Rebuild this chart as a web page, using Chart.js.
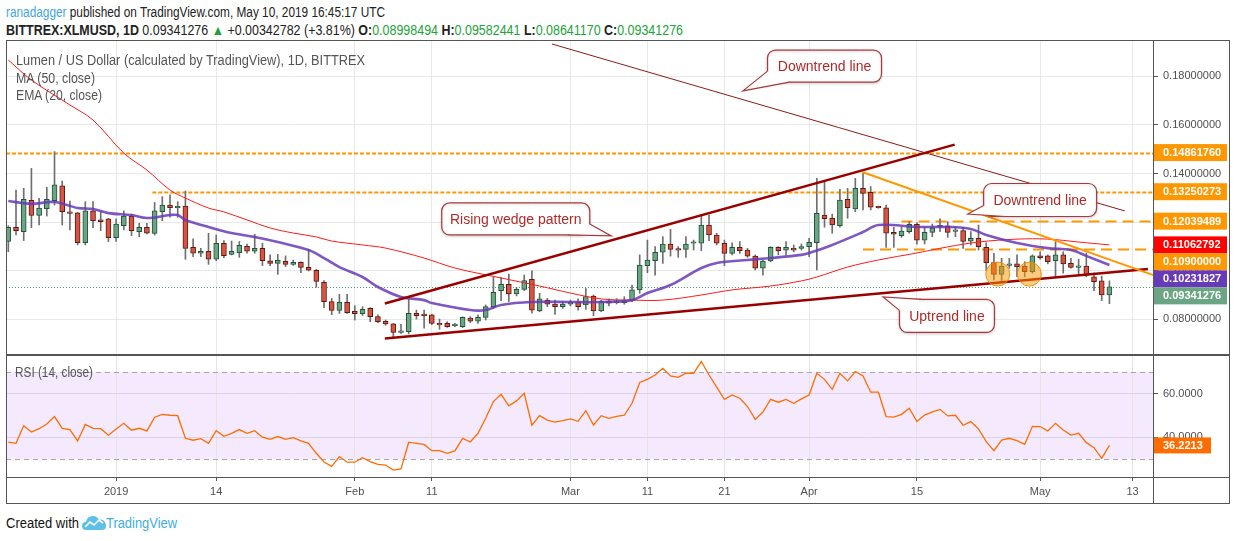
<!DOCTYPE html>
<html>
<head>
<meta charset="utf-8">
<script src="https://cdn.jsdelivr.net/npm/chart.js@4.4.0/dist/chart.umd.min.js"></script>
<style>
  body { margin:0; background:#fff; width:1234px; height:541px; overflow:hidden; position:relative;
         font-family:"Liberation Sans", Arial, sans-serif; }
  .fit { position:absolute; white-space:nowrap; transform-origin:0 50%; line-height:16px; }
  .line { position:absolute; background:#555; }
  #mainBox { position:absolute; left:6px; top:40px; width:1224px; height:315px; }
  #rsiBox  { position:absolute; left:6px; top:355px; width:1224px; height:149px; }
  .leg { color:#555; font-size:14px; }
  .g { color:#22a33a; }
</style>
</head>
<body>

<div id="mainBox"><canvas id="mainChart"></canvas></div>
<div id="rsiBox"><canvas id="rsiChart"></canvas></div>

<!-- frame -->
<div class="line" style="left:6px;top:40px;width:1224px;height:1px"></div>
<div class="line" style="left:6px;top:503px;width:1224px;height:1px"></div>
<div class="line" style="left:6px;top:40px;width:1px;height:464px"></div>
<div class="line" style="left:1229px;top:40px;width:1px;height:464px"></div>
<div class="line" style="left:6px;top:354px;width:1224px;height:2px"></div>
<div class="line" style="left:6px;top:477px;width:1224px;height:1px"></div>
<div class="line" style="left:1153px;top:40px;width:1px;height:464px"></div>

<div class="fit" data-w="379" style="left:6px;top:4px;font-size:14px;color:#222"><span style="color:#3fa6e0">ranadagger</span> published on TradingView.com, May 10, 2019 16:45:17 UTC</div>
<div class="fit" data-w="677" style="left:6px;top:22px;font-size:14px;color:#222"><b>BITTREX:XLMUSD, 1D</b> 0.09341276 <span class="g">&#9650;</span> +0.00342782 (+3.81%) <b>O:</b><span class="g">0.08998494</span> <b>H:</b><span class="g">0.09582441</span> <b>L:</b><span class="g">0.08641170</span> <b>C:</b><span class="g">0.09341276</span></div>

<div class="fit leg" data-w="349" style="left:16px;top:52px">Lumen / US Dollar (calculated by TradingView), 1D, BITTREX</div>
<div class="fit leg" data-w="79" style="left:16px;top:70px">MA (50, close)</div>
<div class="fit leg" data-w="86" style="left:16px;top:87px">EMA (20, close)</div>
<div class="fit leg" data-w="78" style="left:15px;top:364px">RSI (14, close)</div>

<div class="fit" data-w="73" style="left:6px;top:515px;font-size:14px;color:#111">Created with</div>
<svg style="position:absolute;left:82px;top:514px" width="24" height="17" viewBox="0 0 24 17">
  <path d="M4 16 Q0 16 0 12 Q0 8 4 8 Q5 2 11 2 Q15 2 17 6 Q19 5 21 6 Q24 8 24 12 Q24 16 20 16 Z" fill="#5cc0e8"/>
  <polyline points="3,13 8,8 12,11 17,6 21,9" stroke="#fff" stroke-width="1.6" fill="none"/>
</svg>
<div class="fit" data-w="71" style="left:106px;top:515px;font-size:14px;color:#3eaee0">TradingView</div>

<script>
// candles, one per day from 2018-12-18 (index 0) to 2019-05-10 (index 143)
const open = [
0.1120,0.1179,0.1161,0.1290,0.1227,0.1255,0.1288,0.1349,0.1242,0.1238,0.1115,0.1246,
0.1209,0.1213,0.1136,0.1185,0.1225,0.1161,0.1179,0.1153,0.1243,0.1270,0.1259,0.1266,
0.1096,0.1072,0.1080,0.1047,0.1113,0.1067,0.1074,0.1100,0.1080,0.1092,0.1041,0.1030,
0.1039,0.1026,0.1034,0.1014,0.1002,0.0952,0.0873,0.0837,0.0870,0.0833,0.0823,0.0845,
0.0811,0.0792,0.0781,0.0746,0.0749,0.0825,0.0820,0.0818,0.0781,0.0783,0.0774,0.0770,
0.0805,0.0792,0.0808,0.0852,0.0918,0.0944,0.0904,0.0923,0.0964,0.0835,0.0879,0.0863,
0.0852,0.0862,0.0870,0.0859,0.0896,0.0835,0.0875,0.0868,0.0868,0.0877,0.0921,0.1021,
0.1041,0.1076,0.1110,0.1088,0.1088,0.1113,0.1113,0.1188,0.1147,0.1113,0.1071,0.1096,
0.1085,0.1060,0.1010,0.1040,0.1096,0.1085,0.1092,0.1092,0.1099,0.1115,0.1229,0.1216,
0.1185,0.1294,0.1254,0.1339,0.1323,0.1261,0.1259,0.1158,0.1144,0.1161,0.1191,0.1126,
0.1158,0.1181,0.1185,0.1162,0.1165,0.1122,0.1133,0.1096,0.1033,0.0985,0.1022,0.1028,
0.1019,0.0996,0.1061,0.1061,0.1041,0.1065,0.1030,0.1014,0.1019,0.0975,0.0958,0.08998494
];
const high = [
0.1185,0.1332,0.1339,0.1421,0.1298,0.1343,0.1490,0.1369,0.1287,0.1240,0.1284,0.1284,
0.1243,0.1215,0.1213,0.1246,0.1233,0.1195,0.1195,0.1281,0.1305,0.1312,0.1284,0.1328,
0.1131,0.1092,0.1154,0.1147,0.1124,0.1122,0.1120,0.1110,0.1150,0.1113,0.1065,0.1067,
0.1061,0.1044,0.1037,0.1088,0.1006,0.0959,0.0886,0.0903,0.0903,0.0856,0.0852,0.0848,
0.0818,0.0797,0.0783,0.0779,0.0884,0.0838,0.0838,0.0821,0.0801,0.0790,0.0783,0.0810,
0.0811,0.0818,0.0859,0.0973,0.0973,0.0986,0.0932,0.0982,0.0999,0.0907,0.0886,0.0879,
0.0873,0.0879,0.0884,0.0927,0.0900,0.0879,0.0884,0.0885,0.0893,0.0941,0.1065,0.1126,
0.1099,0.1140,0.1170,0.1099,0.1140,0.1126,0.1229,0.1229,0.1154,0.1126,0.1115,0.1120,
0.1092,0.1065,0.1044,0.1099,0.1099,0.1120,0.1106,0.1110,0.1133,0.1380,0.1367,0.1233,
0.1335,0.1339,0.1380,0.1401,0.1346,0.1266,0.1270,0.1179,0.1179,0.1202,0.1198,0.1179,
0.1192,0.1213,0.1202,0.1179,0.1179,0.1161,0.1188,0.1115,0.1072,0.1051,0.1051,0.1065,
0.1037,0.1065,0.1078,0.1065,0.1120,0.1078,0.1051,0.1047,0.1072,0.0990,0.0978,0.09582441
];
const low = [
0.1078,0.1147,0.1124,0.1177,0.1188,0.1225,0.1270,0.1188,0.1168,0.1106,0.1106,0.1177,
0.1165,0.1120,0.1120,0.1168,0.1144,0.1140,0.1151,0.1147,0.1206,0.1220,0.1220,0.1047,
0.1058,0.1058,0.1026,0.1041,0.1054,0.1065,0.1055,0.1072,0.1072,0.1021,0.1021,0.0985,
0.1017,0.1022,0.0992,0.0999,0.0932,0.0848,0.0819,0.0824,0.0824,0.0797,0.0816,0.0790,
0.0786,0.0775,0.0722,0.0742,0.0740,0.0801,0.0763,0.0778,0.0759,0.0767,0.0770,0.0766,
0.0786,0.0783,0.0797,0.0845,0.0877,0.0873,0.0896,0.0918,0.0825,0.0831,0.0852,0.0820,
0.0845,0.0855,0.0838,0.0841,0.0815,0.0831,0.0855,0.0863,0.0862,0.0873,0.0907,0.0992,
0.0982,0.1030,0.1060,0.1055,0.1055,0.1085,0.1082,0.1124,0.1106,0.1021,0.1065,0.1071,
0.1055,0.1003,0.0982,0.1037,0.1065,0.1065,0.1078,0.1085,0.1058,0.1003,0.1179,0.1154,
0.1179,0.1216,0.1243,0.1250,0.1250,0.1257,0.1096,0.1096,0.1137,0.1154,0.1109,0.1110,
0.1140,0.1161,0.1137,0.1140,0.1092,0.1106,0.1085,0.1000,0.0962,0.0951,0.1010,0.0975,
0.0975,0.0990,0.1047,0.1028,0.0975,0.0990,0.1010,0.0982,0.0975,0.0918,0.0877,0.08641170
];
const close = [
0.1179,0.1165,0.1294,0.1227,0.1258,0.1294,0.1353,0.1243,0.1236,0.1115,0.1246,0.1206,
0.1202,0.1136,0.1192,0.1225,0.1165,0.1179,0.1154,0.1246,0.1270,0.1259,0.1261,0.1092,
0.1072,0.1080,0.1047,0.1113,0.1062,0.1080,0.1104,0.1080,0.1092,0.1041,0.1030,0.1043,
0.1026,0.1034,0.1014,0.1002,0.0956,0.0873,0.0837,0.0870,0.0827,0.0823,0.0841,0.0811,
0.0790,0.0781,0.0746,0.0752,0.0825,0.0815,0.0815,0.0783,0.0777,0.0770,0.0777,0.0808,
0.0792,0.0808,0.0852,0.0911,0.0944,0.0904,0.0923,0.0959,0.0838,0.0884,0.0862,0.0852,
0.0863,0.0870,0.0852,0.0893,0.0835,0.0874,0.0866,0.0875,0.0877,0.0921,0.1023,0.1044,
0.1076,0.1110,0.1088,0.1085,0.1110,0.1115,0.1188,0.1147,0.1113,0.1071,0.1096,0.1082,
0.1060,0.1010,0.1040,0.1096,0.1082,0.1096,0.1085,0.1099,0.1117,0.1236,0.1214,0.1188,
0.1291,0.1259,0.1339,0.1318,0.1261,0.1259,0.1154,0.1150,0.1163,0.1191,0.1126,0.1158,
0.1176,0.1185,0.1158,0.1165,0.1120,0.1133,0.1099,0.1033,0.0985,0.1019,0.1028,0.1017,
0.0996,0.1061,0.1054,0.1037,0.1065,0.1028,0.1014,0.1019,0.0982,0.0955,0.08998494,0.09341276
];

// moving averages (day index, value)
const maDay = [0,3,8,11,15,18,21,23,26,28,31,34,37,40,42,46,49,54,58,64,69,73,77,81,85,90,94,99,103,105,109,113,118,122,126,131,135,139,143];
const maValue = [0.1867,0.1785,0.1682,0.1620,0.1484,0.1414,0.1332,0.1299,0.1258,0.1242,0.1209,0.1176,0.1155,0.1139,0.1122,0.1106,0.1093,0.1052,0.1011,0.0970,
  0.0937,0.0908,0.0884,0.0879,0.0879,0.0900,0.0921,0.0937,0.0958,0.0974,0.1015,0.1044,0.1073,0.1098,0.1118,0.1130,0.1130,0.1118,0.11062792];
const emaDay = [0,3,6,9,11,13,16,18,21,22,23,26,29,32,35,39,41,43,46,48,51,54,55,60,62,64,68,73,77,81,83,86,90,92,96,99,103,104,107,111,113,118,122,125,127,131,135,138,140,143];
const emaValue = [0.1287,0.1275,0.1283,0.1258,0.1254,0.1237,0.1229,0.1217,0.1229,0.1229,0.1209,0.1180,0.1155,0.1139,0.1118,0.1085,0.1052,0.1015,0.0974,0.0933,
  0.0892,0.0879,0.0867,0.0838,0.0838,0.0859,0.0871,0.0871,0.0871,0.0879,0.0908,0.0941,0.1011,0.1032,0.1044,0.1052,0.1065,0.1073,0.1106,0.1159,
  0.1188,0.1180,0.1180,0.1172,0.1147,0.1114,0.1093,0.1085,0.1061,0.10231827];

// RSI(14) per day
const rsi = [
37.7,37.2,45.3,42.4,43.9,46.1,49.5,44.1,43.5,38.3,45.9,44.1,
43.9,40.9,43.8,46.4,43.2,44.1,42.9,49.2,50.5,50.1,49.9,39.5,
38.6,39.3,37.2,43.0,40.4,41.8,43.5,41.8,43.0,40.0,39.0,40.3,
39.0,39.8,38.3,37.2,32.6,28.6,26.6,31.1,28.5,28.5,30.6,28.8,
27.5,27.2,24.9,25.4,37.7,37.2,36.7,33.8,33.8,32.6,33.7,39.5,
37.8,41.8,48.7,56.4,59.7,54.4,56.7,60.2,45.5,49.9,47.9,46.9,
47.6,48.4,47.3,52.2,45.6,49.9,48.7,49.6,50.1,55.6,65.2,66.6,
68.6,71.7,68.2,67.5,69.4,69.4,74.8,68.6,63.0,57.4,59.4,57.9,
54.1,48.2,51.6,57.4,56.1,57.4,55.6,57.6,59.4,69.4,66.6,62.0,
69.4,65.9,70.2,68.2,60.7,60.7,49.5,49.2,50.5,53.3,47.2,50.2,
51.6,52.8,49.8,50.1,45.5,47.2,43.8,38.0,33.8,38.7,39.5,38.4,
36.7,45.0,44.9,42.9,46.4,43.3,41.0,41.8,37.5,35.2,30.3,36.2213
];

// date axis
const dateTicks = [14,27,45,55,73,83,93,104,118,134,146];
const dateLabels = ['2019','14','Feb','11','Mar','11','21','Apr','15','May','13'];
const priceTicks = [0.08,0.10,0.12,0.14,0.16,0.18];
const rsiTicks = [40,60];

// price labels on the axis
const badgeValues = [0.14861760,0.13250273,0.12039489,0.11062792,0.10900000,0.10231827,0.09341276];
const badgeColors = ['#ff9800','#ff9800','#ff9800','#ff0000','#ff9800','#673ab7','#6ba583'];
const lastPrice = 0.09341276;
const lastRsi = 36.2213;

// drawings (day index, price)
const levels = [
  { value: 0.14861760, from: -0.3, dash: [4, 2] },
  { value: 0.13250273, from: 18.7, dash: [4, 2] },
  { value: 0.12039489, from: 116, dash: [11, 6] },
  { value: 0.10900000, from: 111, dash: [11, 6] }
];
const trendLines = [
  { a: [70.6, 0.1933], b: [145.0, 0.1246], color: '#8b1a1a', width: 1 },
  { a: [48.9, 0.0865], b: [122.9, 0.1519], color: '#990000', width: 2.5 },
  { a: [48.9, 0.0721], b: [148.0, 0.1007], color: '#990000', width: 2.5 },
  { a: [110.9, 0.1406], b: [148.7, 0.0982], color: '#ff9800', width: 2 }
];
const circles = [[128.5, 0.0986], [132.6, 0.0986]];
const callouts = [
  { text: 'Downtrend line', at: [106.0, 0.1842], w: 114, h: 32, tip: [95.4, 0.1740] },
  { text: 'Rising wedge pattern', at: [65.9, 0.1213], w: 148, h: 32, tip: [78.3, 0.1143] },
  { text: 'Downtrend line', at: [134.0, 0.1291], w: 113, h: 33, tip: [124.6, 0.1233] },
  { text: 'Uptrend line', at: [121.9, 0.0814], w: 95, h: 33, tip: [113.6, 0.0892] }
];

const FONT = '"Liberation Sans", Arial, sans-serif';
const X_MIN = -0.3, X_MAX = 148.66;
const AXIS_W = 77;

const wicks = close.map((c, i) => ({ x: i, y: [low[i], high[i]] }));
const bodies = close.map((c, i) => ({ x: i, y: [open[i], c] }));
const isUp = i => close[i] >= open[i];

function fixAxis(s, w) {
  s.width = w;
  s.paddingTop = 0; s.paddingBottom = 0;
}

function bubble(ctx, cx, cy, w, h, tx, ty, text) {
  const x0 = cx - w / 2, y0 = cy - h / 2;
  const left = tx < cx, top = ty < cy;
  const cX = left ? x0 : x0 + w, cY = top ? y0 : y0 + h;
  const p1 = [cX, cY + (top ? 11 : -11)];
  const p2 = [cX + (left ? 22 : -22), cY];
  ctx.save();
  ctx.fillStyle = '#fff';
  ctx.strokeStyle = '#a83a3a';
  ctx.lineWidth = 1.2;
  ctx.shadowColor = 'rgba(0,0,0,0.18)';
  ctx.shadowBlur = 3;
  ctx.shadowOffsetY = 1;
  ctx.beginPath();
  ctx.roundRect(x0, y0, w, h, 8);
  ctx.fill();
  ctx.stroke();
  ctx.shadowColor = 'transparent';
  ctx.beginPath();
  ctx.moveTo(p1[0], p1[1]); ctx.lineTo(tx, ty); ctx.lineTo(p2[0], p2[1]); ctx.closePath();
  ctx.fill();
  ctx.beginPath();
  ctx.moveTo(p1[0], p1[1]); ctx.lineTo(tx, ty); ctx.lineTo(p2[0], p2[1]);
  ctx.stroke();
  ctx.fillStyle = '#b02a2a';
  ctx.font = '14px ' + FONT;
  ctx.textAlign = 'center';
  ctx.textBaseline = 'middle';
  ctx.fillText(text, cx, cy + 1, w - 16);
  ctx.restore();
}

const drawingsPlugin = {
  id: 'drawings',
  beforeDatasetsDraw(chart) {
    const { ctx, chartArea: a, scales: { x, y } } = chart;
    ctx.save();
    ctx.beginPath(); ctx.rect(a.left, a.top, a.width, a.height); ctx.clip();
    levels.forEach(l => {
      ctx.strokeStyle = '#ff9800'; ctx.lineWidth = 2; ctx.setLineDash(l.dash);
      const py = Math.round(y.getPixelForValue(l.value)) + 0.5;
      ctx.beginPath(); ctx.moveTo(x.getPixelForValue(l.from), py); ctx.lineTo(a.right, py); ctx.stroke();
    });
    ctx.strokeStyle = '#4f9a6a'; ctx.lineWidth = 1; ctx.setLineDash([1, 2]);
    const ly = Math.round(y.getPixelForValue(lastPrice)) + 0.5;
    ctx.beginPath(); ctx.moveTo(a.left, ly); ctx.lineTo(a.right, ly); ctx.stroke();
    ctx.restore();
  },
  afterDatasetsDraw(chart) {
    const { ctx, chartArea: a, scales: { x, y } } = chart;
    ctx.save();
    ctx.beginPath(); ctx.rect(a.left, a.top, a.width, a.height); ctx.clip();
    trendLines.forEach(t => {
      ctx.strokeStyle = t.color; ctx.lineWidth = t.width;
      ctx.beginPath();
      ctx.moveTo(x.getPixelForValue(t.a[0]), y.getPixelForValue(t.a[1]));
      ctx.lineTo(x.getPixelForValue(t.b[0]), y.getPixelForValue(t.b[1]));
      ctx.stroke();
    });
    circles.forEach(c => {
      ctx.fillStyle = 'rgba(255,152,0,0.5)'; ctx.strokeStyle = 'rgba(235,140,0,0.9)'; ctx.lineWidth = 1;
      ctx.beginPath(); ctx.arc(x.getPixelForValue(c[0]), y.getPixelForValue(c[1]), 12, 0, Math.PI * 2);
      ctx.fill(); ctx.stroke();
    });
    callouts.forEach(c => bubble(ctx, x.getPixelForValue(c.at[0]), y.getPixelForValue(c.at[1]), c.w, c.h,
      x.getPixelForValue(c.tip[0]), y.getPixelForValue(c.tip[1]), c.text));
    ctx.restore();
  },
  afterDraw(chart) {
    const { ctx, chartArea: a, scales: { y } } = chart;
    ctx.save();
    ctx.font = 'bold 11px ' + FONT;
    ctx.textBaseline = 'middle';
    let prev = -1e9;
    badgeValues.forEach((v, k) => {
      let cy = y.getPixelForValue(v);
      if (cy < prev + 17) cy = prev + 17;
      prev = cy;
      ctx.fillStyle = badgeColors[k];
      ctx.fillRect(a.right + 1, cy - 8.5, 73, 17);
      ctx.fillStyle = '#fff';
      ctx.fillText(v.toFixed(8), a.right + 10, cy + 0.5);
    });
    ctx.restore();
  }
};

new Chart(document.getElementById('mainChart'), {
  type: 'bar',
  data: {
    datasets: [
      { type: 'line', data: emaDay.map((d, k) => ({ x: d, y: emaValue[k] })), borderColor: 'rgba(103,58,183,0.85)',
        borderWidth: 2.6, pointRadius: 0, tension: 0.35, order: 1 },
      { type: 'line', data: maDay.map((d, k) => ({ x: d, y: maValue[k] })), borderColor: '#ff1a1a',
        borderWidth: 1, pointRadius: 0, tension: 0.35, order: 2 },
      { data: bodies, grouped: false, barThickness: 5, minBarLength: 1.5, borderWidth: 1, borderSkipped: false,
        backgroundColor: c => isUp(c.dataIndex) ? '#6ba583' : '#d75442',
        borderColor: c => isUp(c.dataIndex) ? '#225437' : '#5b1a13', order: 3 },
      { data: wicks, grouped: false, barThickness: 1, backgroundColor: '#6f6f72', order: 4 }
    ]
  },
  options: {
    responsive: true, maintainAspectRatio: false, animation: false,
    layout: { padding: 0 },
    plugins: { legend: { display: false }, tooltip: { enabled: false } },
    scales: {
      x: {
        type: 'linear', min: X_MIN, max: X_MAX, offset: false,
        grid: { color: '#e8e8e8', drawTicks: false, offset: false },
        border: { display: false },
        ticks: { display: false },
        afterBuildTicks: s => { s.ticks = dateTicks.map(v => ({ value: v })); },
        afterFit: s => { s.height = 0; }
      },
      y: {
        position: 'right', min: 0.06531, max: 0.19494, beginAtZero: false,
        grid: { color: '#e8e8e8', tickColor: '#555', tickLength: 5 },
        border: { display: false },
        ticks: { color: '#4f4f4f', font: { family: FONT, size: 11 }, padding: 5, callback: v => v.toFixed(8) },
        afterBuildTicks: s => { s.ticks = priceTicks.map(v => ({ value: v })); },
        afterFit: s => fixAxis(s, AXIS_W)
      }
    }
  },
  plugins: [drawingsPlugin]
});

const rsiPlugin = {
  id: 'rsiBand',
  beforeDraw(chart) {
    const { ctx, chartArea: a, scales: { y } } = chart;
    const y70 = y.getPixelForValue(70), y30 = y.getPixelForValue(30);
    ctx.save();
    ctx.fillStyle = '#f4e9fd';
    ctx.fillRect(a.left, y70, a.width, y30 - y70);
    ctx.restore();
  },
  beforeDatasetsDraw(chart) {
    const { ctx, chartArea: a, scales: { y } } = chart;
    ctx.save();
    ctx.strokeStyle = '#a9a4b0'; ctx.lineWidth = 1; ctx.setLineDash([5, 4]);
    [70, 30].forEach(v => {
      const py = Math.round(y.getPixelForValue(v)) + 0.5;
      ctx.beginPath(); ctx.moveTo(a.left, py); ctx.lineTo(a.right, py); ctx.stroke();
    });
    ctx.restore();
  },
  afterDraw(chart) {
    const { ctx, chartArea: a, scales: { y } } = chart;
    const cy = y.getPixelForValue(lastRsi);
    ctx.save();
    ctx.fillStyle = '#ff6d00';
    ctx.fillRect(a.right + 1, cy - 8, 57, 16);
    ctx.fillStyle = '#fff';
    ctx.font = 'bold 11px ' + FONT;
    ctx.textBaseline = 'middle';
    ctx.fillText(lastRsi.toFixed(4), a.right + 10, cy + 0.5);
    ctx.restore();
  }
};

new Chart(document.getElementById('rsiChart'), {
  type: 'line',
  data: {
    datasets: [
      { data: rsi.map((v, i) => ({ x: i, y: v })), borderColor: '#ff6d00', borderWidth: 1.3, pointRadius: 0, tension: 0 }
    ]
  },
  options: {
    responsive: true, maintainAspectRatio: false, animation: false,
    layout: { padding: 0 },
    plugins: { legend: { display: false }, tooltip: { enabled: false } },
    scales: {
      x: {
        type: 'linear', min: X_MIN, max: X_MAX,
        grid: { color: '#e4e4e4', tickColor: '#555', tickLength: 4 },
        border: { display: false },
        ticks: { color: '#4f4f4f', font: { family: FONT, size: 11 }, padding: 4, autoSkip: false, maxRotation: 0,
                 callback: v => dateLabels[dateTicks.indexOf(v)] },
        afterBuildTicks: s => { s.ticks = dateTicks.map(v => ({ value: v })); },
        afterFit: s => { s.height = 27; s.paddingLeft = 0; s.paddingRight = 0; }
      },
      y: {
        position: 'right', min: 21.7, max: 77.8,
        grid: { color: '#dcd3e6', tickColor: '#555', tickLength: 5 },
        border: { display: false },
        ticks: { color: '#4f4f4f', font: { family: FONT, size: 11 }, padding: 5, callback: v => v.toFixed(4) },
        afterBuildTicks: s => { s.ticks = rsiTicks.map(v => ({ value: v })); },
        afterFit: s => fixAxis(s, AXIS_W)
      }
    }
  },
  plugins: [rsiPlugin]
});

document.querySelectorAll('.fit').forEach(el => {
  const w = el.getBoundingClientRect().width;
  el.style.transform = 'scaleX(' + (+el.dataset.w / w) + ')';
});
</script>
</body>
</html>
